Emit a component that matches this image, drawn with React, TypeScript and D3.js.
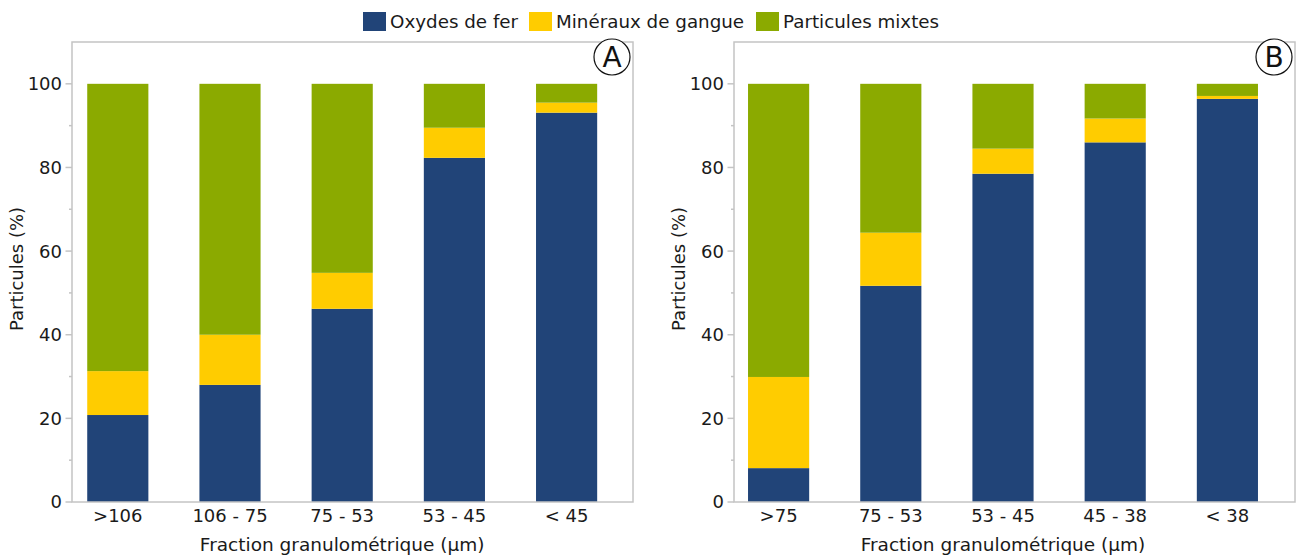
import React from "react";
import * as d3 from "d3";

const categoriesA = [">106", "106 - 75", "75 - 53", "53 - 45", "< 45"];
const categoriesB = [">75", "75 - 53", "53 - 45", "45 - 38", "< 38"];

const oxydesA = [20.8, 28.0, 46.2, 82.3, 93.1];
const gangueA = [10.5, 12.0, 8.6, 7.2, 2.4];
const mixtesA = [68.7, 60.0, 45.2, 10.5, 4.5];

const oxydesB = [8.1, 51.7, 78.5, 86.0, 96.4];
const gangueB = [21.8, 12.7, 6.0, 5.7, 0.7];
const mixtesB = [70.1, 35.6, 15.5, 8.3, 2.9];

const seriesNames = ["Oxydes de fer", "Minéraux de gangue", "Particules mixtes"];
const seriesColors = ["#214478", "#FFCC00", "#8BAA00"];
const yMajorTicks = [0, 20, 40, 60, 80, 100];
const yMinorTicks = [10, 30, 50, 70, 90];

const xAxisTitle = "Fraction granulométrique (µm)";
const yAxisTitle = "Particules (%)";

const FONT = "'DejaVu Sans', Verdana, sans-serif";
const TEXT = "#1a1a1a";
const GRID = "#c4c4c4";

type PanelProps = {
  left: number;
  right: number;
  categories: string[];
  series: number[][];
  tag: string;
  bandOffset: number;
};

function Panel({ left, right, categories, series, tag, bandOffset }: PanelProps) {
  const top = 42;
  const bottom = 502;
  const y = d3.scaleLinear().domain([0, 110]).range([bottom, top]);
  const width = right - left;
  const x = d3
    .scaleBand<string>()
    .domain(categories)
    .range([left + bandOffset, left + bandOffset + width])
    .paddingInner(0.455)
    .paddingOuter(0.2275);

  const rows = categories.map((c, i) => {
    const r: any = { cat: c };
    seriesNames.forEach((s, k) => (r[s] = series[k][i]));
    return r;
  });
  const stacked = d3.stack<any>().keys(seriesNames)(rows);
  const bandCenter = (x.range()[0] + x.range()[1]) / 2;
  const midY = (top + bottom) / 2 - 3;

  return (
    <g>
      {stacked.map((layer, k) => (
        <g key={k} fill={seriesColors[k]}>
          {layer.map((d, i) => (
            <rect
              key={i}
              x={x(categories[i])}
              width={x.bandwidth()}
              y={y(d[1])}
              height={y(d[0]) - y(d[1])}
            />
          ))}
        </g>
      ))}
      <rect
        x={left}
        y={top}
        width={width}
        height={bottom - top}
        fill="none"
        stroke={GRID}
        strokeWidth={1.5}
      />
      {yMajorTicks.map((t) => (
        <g key={"M" + t}>
          <line x1={left - 6.5} x2={left} y1={y(t)} y2={y(t)} stroke={GRID} strokeWidth={1.5} />
          <text
            x={left - 10}
            y={y(t)}
            dy="0.36em"
            textAnchor="end"
            fontSize={18}
            fontFamily={FONT}
            fill={TEXT}
          >
            {t}
          </text>
        </g>
      ))}
      {yMinorTicks.map((t) => (
        <line key={"m" + t} x1={left - 3} x2={left} y1={y(t)} y2={y(t)} stroke={GRID} strokeWidth={1.5} />
      ))}
      {categories.map((c) => (
        <text
          key={c}
          x={(x(c) as number) + x.bandwidth() / 2}
          y={522}
          textAnchor="middle"
          fontSize={18}
          fontFamily={FONT}
          fill={TEXT}
        >
          {c}
        </text>
      ))}
      <text
        x={bandCenter}
        y={551}
        textAnchor="middle"
        fontSize={18.5}
        fontFamily={FONT}
        fill={TEXT}
      >
        {xAxisTitle}
      </text>
      <text
        transform={`translate(${left - 49},${midY}) rotate(-90)`}
        textAnchor="middle"
        fontSize={18}
        fontFamily={FONT}
        fill={TEXT}
      >
        {yAxisTitle}
      </text>
      <circle cx={right - 21} cy={57} r={18} fill="white" stroke="#111" strokeWidth={1.2} />
      <text
        x={right - 21}
        y={57}
        dy="0.36em"
        textAnchor="middle"
        fontSize={28}
        fontFamily={FONT}
        fill="#111"
      >
        {tag}
      </text>
    </g>
  );
}

export default function App() {
  const legendX = [363, 529, 756];
  return (
    <svg
      width={1297}
      height={556}
      style={{ position: "absolute", left: 0, top: 0, background: "white" }}
    >
      <rect width={1297} height={556} fill="white" />
      {seriesNames.map((s, k) => (
        <g key={s}>
          <rect x={legendX[k]} y={12} width={23} height={19} fill={seriesColors[k]} />
          <text x={legendX[k] + 27} y={28} fontSize={18.3} fontFamily={FONT} fill={TEXT}>
            {s}
          </text>
        </g>
      ))}
      <Panel
        left={72}
        right={633}
        categories={categoriesA}
        series={[oxydesA, gangueA, mixtesA]}
        tag="A"
        bandOffset={-10.3}
      />
      <Panel
        left={734}
        right={1295}
        categories={categoriesB}
        series={[oxydesB, gangueB, mixtesB]}
        tag="B"
        bandOffset={-11.5}
      />
    </svg>
  );
}
